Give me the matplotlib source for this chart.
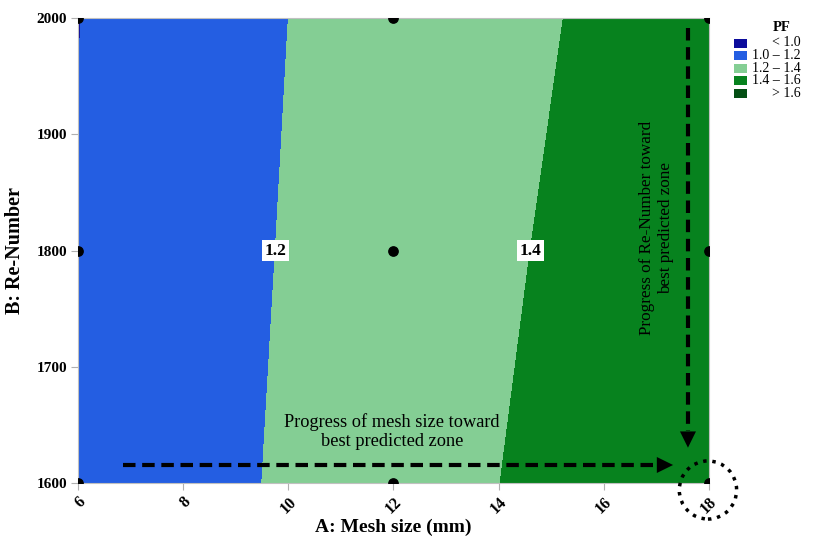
import matplotlib
matplotlib.use("Agg")
import matplotlib.pyplot as plt
import numpy as np
from matplotlib.patches import Rectangle, Ellipse

plt.rcParams['font.family'] = ['Liberation Serif', 'DejaVu Serif']

# response surface values (PF) over mesh size and Re-number
mesh_size = [6, 8, 10, 12, 14, 16, 18]
re_number = [1600, 1800, 2000]
pf_1600 = [1.020, 1.126, 1.225, 1.316, 1.399, 1.474, 1.541]
pf_1800 = [1.008, 1.115, 1.212, 1.301, 1.379, 1.449, 1.510]
pf_2000 = [0.997, 1.104, 1.200, 1.286, 1.360, 1.425, 1.478]

# design points
design_a = [6, 6, 6, 12, 12, 12, 18, 18, 18]
design_b = [1600, 1800, 2000, 1600, 1800, 2000, 1600, 1800, 2000]

levels = [0.0, 1.0, 1.2, 1.4, 1.6, 3.0]
level_colors = ['#0c0c9c', '#245ee2', '#84ce94', '#07821e', '#044f14']
legend_labels = ['< 1.0', '1.0 \u2013 1.2', '1.2 \u2013 1.4', '1.4 \u2013 1.6', '> 1.6']

pf = np.array([pf_1600, pf_1800, pf_2000])

fig = plt.figure(figsize=(8.14, 5.38), dpi=100)
ax = fig.add_axes([0.0958, 0.1022, 0.7752, 0.8643])

ax.contourf(mesh_size, re_number, pf, levels=levels, colors=level_colors)
cs = ax.contour(mesh_size, re_number, pf, levels=[1.2, 1.4], colors='none')
labels = ax.clabel(cs, fmt='%.1f', inline=False, fontsize=12.5,
                   manual=[(9.75, 1800), (14.55, 1800)])
for t in labels:
    t.set_rotation(0)
    t.set_fontweight('bold')
    t.set_color('black')
    t.set_bbox(dict(facecolor='white', edgecolor='none', pad=1.8))

ax.scatter(design_a, design_b, s=45, color='black', zorder=5)

# dashed progress arrows
head = '-|>,head_length=0.65,head_width=0.32'
ax.plot([6.86, 17.1], [1615.5, 1615.5], color='black', lw=3, dashes=(3, 1.6), zorder=6)
ax.annotate('', xy=(17.37, 1615.5), xytext=(17.05, 1615.5),
            arrowprops=dict(arrowstyle=head, color='black', lw=0, mutation_scale=18), zorder=6)
ax.plot([17.6, 17.6], [1991, 1645], color='black', lw=3, dashes=(3, 1.6), zorder=6)
ax.annotate('', xy=(17.6, 1628), xytext=(17.6, 1650),
            arrowprops=dict(arrowstyle=head, color='black', lw=0, mutation_scale=18), zorder=6)

ax.text(11.97, 1644, 'Progress of mesh size toward\nbest predicted zone',
        ha='center', va='center', fontsize=13.2, linespacing=1.15)
ax.text(17.0, 1819, 'Progress of Re-Number toward\nbest predicted zone',
        ha='center', va='center', fontsize=12.3, rotation=90, linespacing=1.2)

ax.add_patch(Ellipse((17.98, 1594), 1.09, 50, fill=False, edgecolor='black',
                     lw=2.5, linestyle=':', clip_on=False, zorder=7))

ax.set_xlim(6, 18)
ax.set_ylim(1600, 2000)
ax.set_xticks([6, 8, 10, 12, 14, 16, 18])
ax.set_yticks([1600, 1700, 1800, 1900, 2000])
ax.set_xticklabels(['6', '8', '10', '12', '14', '16', '18'], rotation=45,
                   ha='right', va='top', rotation_mode='anchor', fontweight='bold', fontsize=11.5)
ax.set_yticklabels(['1600', '1700', '1800', '1900', '2000'], fontweight='bold', fontsize=11)
ax.tick_params(direction='out', length=5, color='#b0b0b0', pad=3)
for s in ax.spines.values():
    s.set_color('#c0c0c0')

ax.set_xlabel('A: Mesh size (mm)', fontsize=14, fontweight='bold', labelpad=1)
ax.set_ylabel('B: Re-Number', fontsize=14.5, fontweight='bold', labelpad=8)

# legend drawn at the right of the axes
W, H = 814, 538
fig.text(782 / W, 1 - 28 / H, 'PF', ha='center', va='center', fontsize=10.5, fontweight='bold')
for i, (c, lab) in enumerate(zip(level_colors, legend_labels)):
    yc = 43 + i * 12.5
    fig.add_artist(Rectangle((734 / W, 1 - (yc + 4.5) / H), 13 / W, 9 / H,
                             facecolor=c, edgecolor='none', transform=fig.transFigure))
    fig.text(801 / W, 1 - yc / H, lab, ha='right', va='center', fontsize=10)

fig.savefig('out.png', dpi=100)
